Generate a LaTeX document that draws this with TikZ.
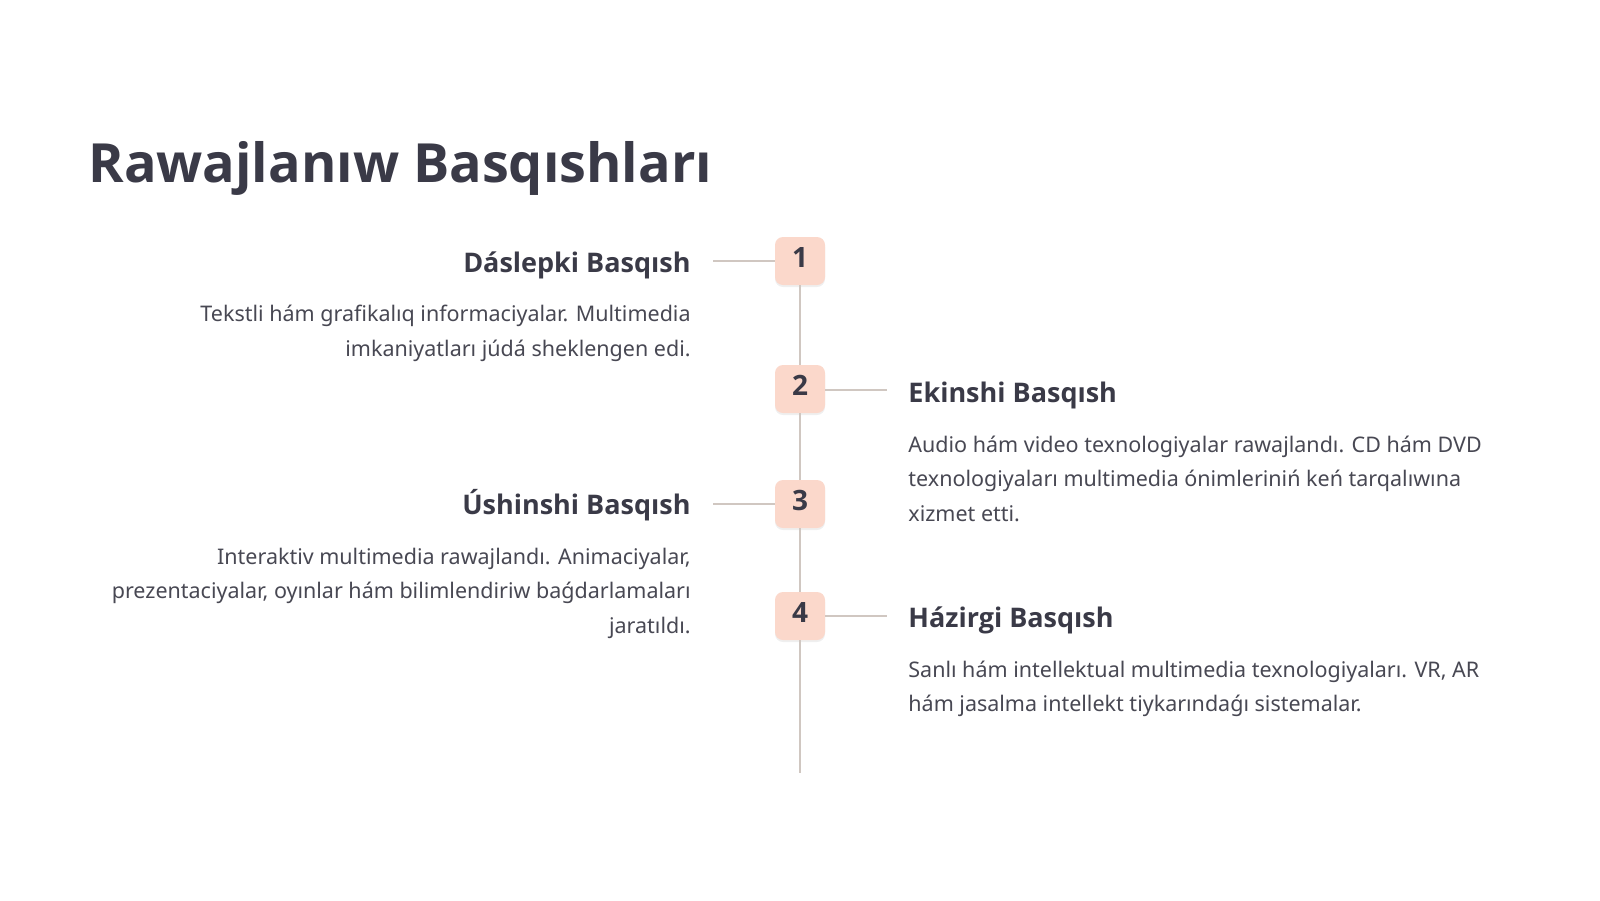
\documentclass[tikz,border=0pt]{standalone}
\usepackage{fontspec}
\setmainfont{Open Sans}
\newfontfamily\bodyfont{Noto Sans}
\usetikzlibrary{positioning,shadows}
\definecolor{ink}{HTML}{3A3A47}
\definecolor{bodytext}{HTML}{484853}
\definecolor{blush}{HTML}{FBD8CB}
\definecolor{railgray}{HTML}{D0C7C1}
\tikzset{
     title/.style = { font=\bfseries\fontsize{27}{30}\selectfont, text=ink, inner sep=0pt },
     stage/.style = { fill=blush, rounded corners=4pt, minimum width=25pt, minimum height=24pt,
                      inner sep=0pt, text height=10pt, text depth=4pt,
                      font=\bfseries\fontsize{14}{14}\selectfont, text=ink,
                      drop shadow={opacity=0.12, shadow xshift=0pt, shadow yshift=-1pt} },
      head/.style = { font=\bfseries\fontsize{13.5}{14}\selectfont, text=ink, inner sep=0pt },
      desc/.style = { font=\bodyfont\fontsize{10.75}{17.3}\selectfont, text=bodytext, inner sep=0pt },
      rail/.style = { color=railgray, line width=1.1pt }
}
\begin{document}
\begin{tikzpicture}[x=0.5pt, y=-0.5pt]
  \useasboundingbox [fill=white] (0,0) rectangle (1600,900);

  \node [title, anchor=base west] (ttl) at (88,182) {Rawajlanıw Basqıshları};

  % stage boxes on the rail
  \node [stage] (n1) at (800,261) {1};
  \node [stage] (n2) at (800,389) {2};
  \node [stage] (n3) at (800,504) {3};
  \node [stage] (n4) at (800,616) {4};
  \coordinate (railend) at (800,773);

  \draw [rail] (n1) -- (n2);
  \draw [rail] (n2) -- (n3);
  \draw [rail] (n3) -- (n4);
  \draw [rail] (n4) -- (railend);

  % stubs
  \coordinate (s1) at (713,261);
  \coordinate (s2) at (887,390);
  \coordinate (s3) at (713,504);
  \coordinate (s4) at (887,616);
  \draw [rail] (n1) -- (s1);
  \draw [rail] (n2.east |- s2) -- (s2);
  \draw [rail] (n3) -- (s3);
  \draw [rail] (n4) -- (s4);

  % left side (base anchor of a multi-line node is its last line)
  \node [head, anchor=base east] (h1) at (691,272) {Dáslepki Basqısh};
  \node [desc, anchor=base east, align=right] (d1) at ([yshift=-42pt]h1.base east)
    {Tekstli hám grafikalıq informaciyalar. Multimedia\\imkaniyatları júdá sheklengen edi.};

  \node [head, anchor=base east] (h3) at (691,514) {Úshinshi Basqısh};
  \node [desc, anchor=base east, align=right] (d3) at ([yshift=-59.6pt]h3.base east)
    {Interaktiv multimedia rawajlandı. Animaciyalar,\\prezentaciyalar, oyınlar hám bilimlendiriw baǵdarlamaları\\jaratıldı.};

  % right side
  \node [head, anchor=base west] (h2) at (908,402) {Ekinshi Basqısh};
  \node [desc, anchor=base west, align=left] (d2) at ([yshift=-59.6pt]h2.base west)
    {Audio hám video texnologiyalar rawajlandı. CD hám DVD\\texnologiyaları multimedia ónimleriniń keń tarqalıwına\\xizmet etti.};

  \node [head, anchor=base west] (h4) at (908,627) {Házirgi Basqısh};
  \node [desc, anchor=base west, align=left] (d4) at ([yshift=-42.3pt]h4.base west)
    {Sanlı hám intellektual multimedia texnologiyaları. VR, AR\\hám jasalma intellekt tiykarındaǵı sistemalar.};
\end{tikzpicture}
\end{document}
